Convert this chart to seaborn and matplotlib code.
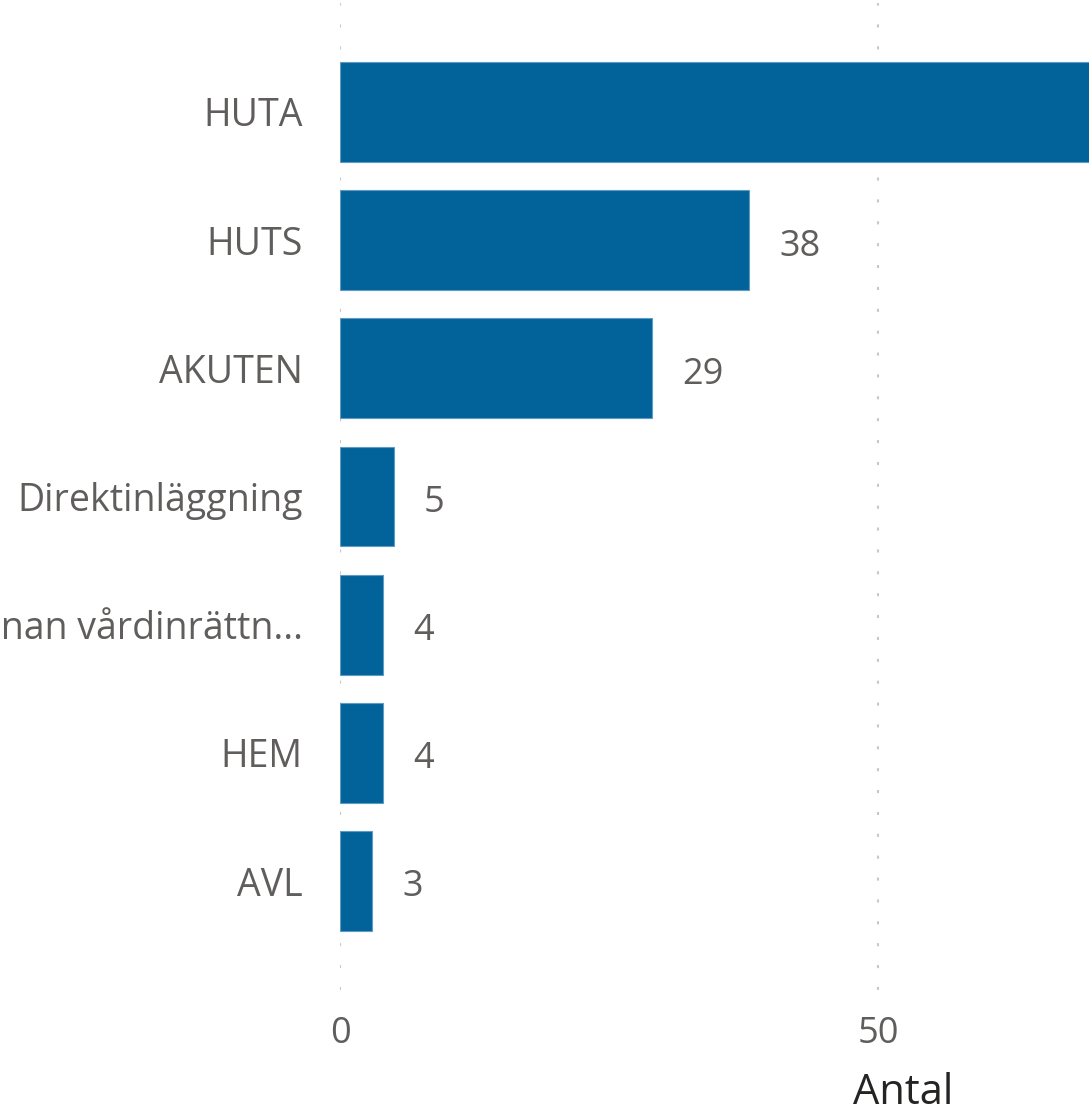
import matplotlib
matplotlib.use("Agg")
import matplotlib.pyplot as plt
import seaborn as sns
import pandas as pd

categories = ["HUTA", "HUTS", "AKUTEN", "Direktinläggning", "Annan vårdinrättn...", "HEM", "AVL"]
values = [95, 38, 29, 5, 4, 4, 3]
x_ticks = [0, 50]
x_label = "Antal"

df = pd.DataFrame({"cat": categories, "val": values})

sns.set_theme(style="white")
plt.rcParams["font.family"] = ["Open Sans", "DejaVu Sans"]

fig = plt.figure(figsize=(10.89, 11.07), dpi=100)
ax = fig.add_axes([340 / 1089, 117 / 1107, 1126 / 1089, 987 / 1107])

sns.barplot(data=df, y="cat", x="val", orient="h", color="#02629A",
            width=0.78, saturation=1, ax=ax, edgecolor="#5f9cc4", linewidth=0.8)

ax.set_xlim(0, 104.6)
ax.set_ylim(6.85, -0.85)
ax.set_xticks(x_ticks)
ax.set_xticklabels([str(t) for t in x_ticks])
for t in x_ticks:
    ax.axvline(t, color="#c8c8c8", linewidth=1.5, linestyle=(0, (1.5, 9)), zorder=0)

for s in ax.spines.values():
    s.set_visible(False)
ax.tick_params(axis="y", length=0, pad=27, labelsize=27, labelcolor="#605E5C")
ax.tick_params(axis="x", length=0, pad=19, labelsize=26, labelcolor="#605E5C")
ax.set_ylabel("")
ax.set_xlabel(x_label, fontsize=30, color="#252423", labelpad=14)

for i, v in enumerate(values):
    if v > 70:
        continue  # label lies beyond the visible crop
    ax.text(v + 2.8, i + 0.05, str(v), va="center", ha="left", fontsize=26, color="#605E5C")

fig.savefig("out.png", dpi=100)
